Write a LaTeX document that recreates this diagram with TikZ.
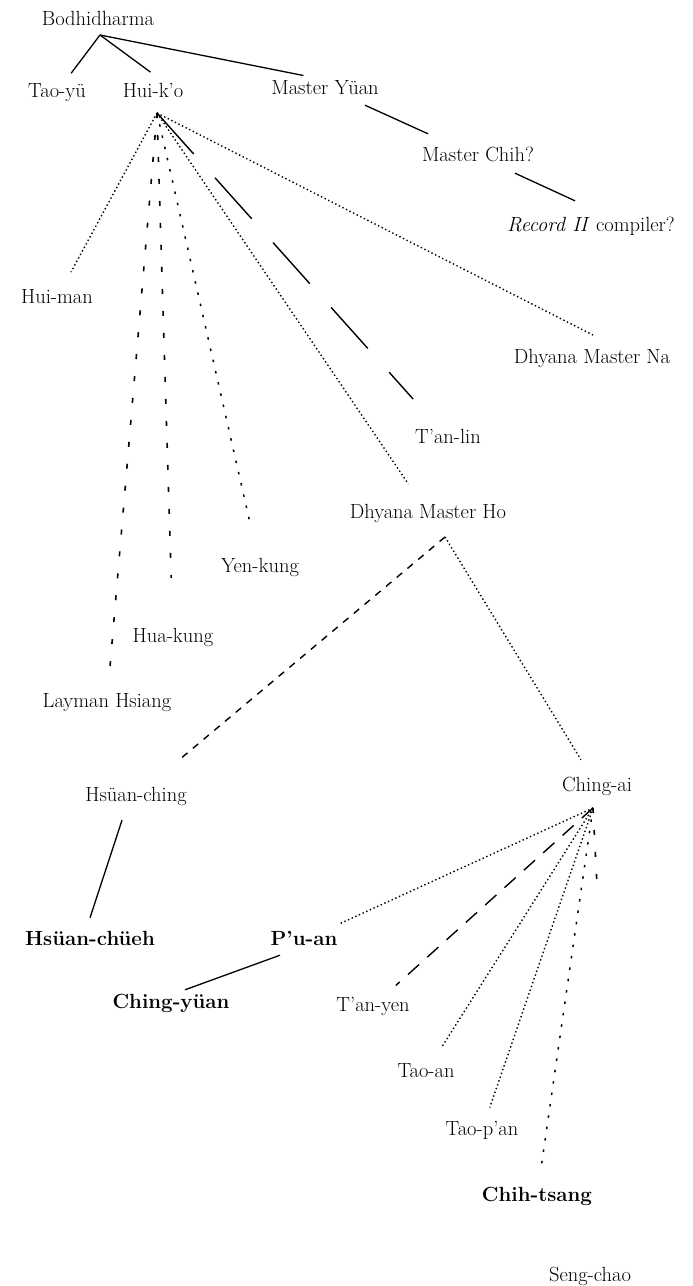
\documentclass[tikz,border=0pt]{standalone}
\begin{document}
\begin{tikzpicture}[x=1pt,y=-1pt,
    every node/.style={font=\fontsize{20.5}{24}\selectfont,inner sep=0pt,text height=14pt,text depth=4pt},
    tie/.style={line width=1.3pt},
    dotline/.style={line width=1.4pt,dash pattern=on 1.4pt off 2.6pt},
    dashline/.style={line width=1.4pt,dash pattern=on 7pt off 7pt},
    longdash/.style={line width=1.4pt,dash pattern=on 55pt off 32pt},
    midash/.style={line width=1.4pt,dash pattern=on 15pt off 11pt},
    sparse/.style={line width=1.6pt,dash pattern=on 5pt off 17pt},
    thinsparse/.style={line width=1.5pt,dash pattern=on 2.5pt off 9pt}]
  \useasboundingbox (0,0) rectangle (693,1286);

  \node (bodhi) at (98,20) {Bodhidharma};
  \node (taoyu) at (57,92) {Tao-y\"u};
  \node (huiko) at (153,92) {Hui-k'o};
  \node (yuan) at (325,89) {Master Y\"uan};
  \node (chih) at (478,156) {Master Chih?};
  \node (record) at (591,226) {\textit{Record II} compiler?};
  \node (huiman) at (57,298) {Hui-man};
  \node (na) at (592,358) {Dhyana Master Na};
  \node (tanlin) at (448,438) {T'an-lin};
  \node (ho) at (428,513) {Dhyana Master Ho};
  \node (yenkung) at (260,567) {Yen-kung};
  \node (huakung) at (173,637) {Hua-kung};
  \node (layman) at (107,702) {Layman Hsiang};
  \node (hsching) at (136,796) {Hs\"uan-ching};
  \node (chingai) at (597,786) {Ching-ai};
  \node[font=\fontsize{20.5}{24}\selectfont\bfseries] (hschueh) at (90,940) {Hs\"uan-ch\"ueh};
  \node[font=\fontsize{20.5}{24}\selectfont\bfseries] (puan) at (304,940) {P'u-an};
  \node[font=\fontsize{20.5}{24}\selectfont\bfseries] (chingyuan) at (171,1003) {Ching-y\"uan};
  \node (tanyen) at (373,1006) {T'an-yen};
  \node (taoan) at (426,1072) {Tao-an};
  \node (taopan) at (482,1130) {Tao-p'an};
  \node[font=\fontsize{20.5}{24}\selectfont\bfseries] (chihtsang) at (537,1196) {Chih-tsang};
  \node (sengchao) at (590,1276) {Seng-chao};

  \coordinate (bodhi-hub) at (100,35);
  \coordinate (huiko-hub) at (157,113);
  \coordinate (ho-hub) at (445,537);
  \coordinate (chingai-hub) at (593,808);
  \coordinate (sengchao-end) at (597,885);

  % solid lines
  \draw[tie,shorten >=12pt] (bodhi-hub) -- (taoyu);
  \draw[tie,shorten >=18pt] (bodhi-hub) -- ([xshift=12pt]huiko.north);
  \draw[tie,shorten >=22pt] (bodhi-hub) -- (yuan.north);
  \draw[tie] ([shift={(40,7)}]yuan.south) -- ([shift={(-50,-13)}]chih.north);
  \draw[tie] ([shift={(37,8)}]chih.south) -- ([shift={(-16,-16)}]record.north);
  \draw[tie] ([shift={(-14,15)}]hsching.south) -- ([shift={(0,-13)}]hschueh.north);
  \draw[tie] ([shift={(-24,6)}]puan.south) -- ([shift={(14,-4)}]chingyuan.north);

  % Hui-k'o
  \draw[dotline,shorten >=19pt] (huiko-hub) -- (huiman);
  \draw[sparse,shorten >=25pt] (huiko-hub) -- (layman);
  \draw[sparse,shorten >=50pt] (huiko-hub) -- (huakung);
  \draw[thinsparse,shorten >=32pt] (huiko-hub) -- (yenkung);
  \draw[longdash,shorten >=40pt] (huiko-hub) -- (tanlin);
  \draw[dotline,shorten >=24pt] (huiko-hub) -- (ho);
  \draw[dotline,shorten >=28pt] (huiko-hub) -- ([xshift=28pt]na.north);

  % Dhyana Master Ho
  \draw[dashline,shorten >=41pt] (ho-hub) -- (hsching);
  \draw[dotline,shorten >=20pt] (ho-hub) -- (chingai);

  % Ching-ai
  \foreach \n/\s/\d in {puan/dotline/18,tanyen/midash/17,taoan/dotline/19,taopan/dotline/14,chihtsang/thinsparse/21}
    \draw[\s,shorten >=\d pt] (chingai-hub) -- (\n);
  \draw[sparse] (chingai-hub) -- (sengchao-end);
\end{tikzpicture}
\end{document}
